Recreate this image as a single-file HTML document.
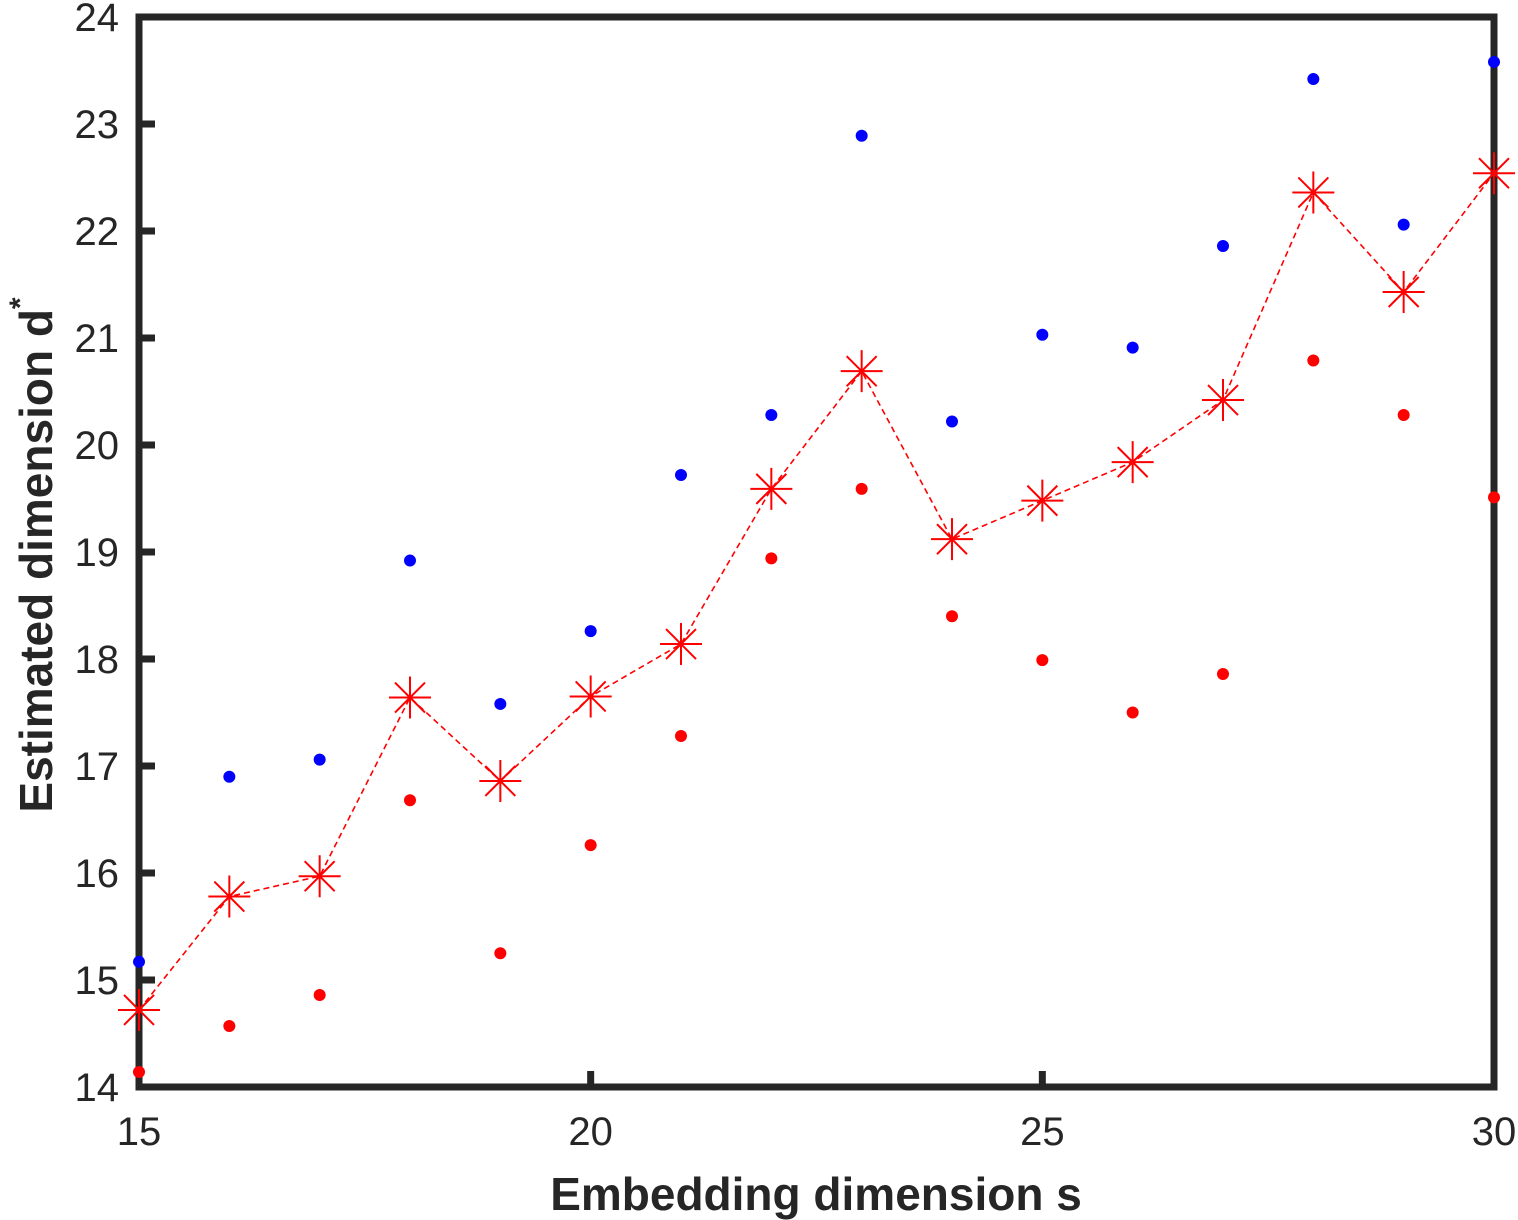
<!DOCTYPE html>
<html><head><meta charset="utf-8"><style>
html,body{margin:0;padding:0;background:#fff;}
svg{display:block;font-family:"Liberation Sans",Arial,sans-serif;}
</style></head><body>
<svg id="chart" width="1518" height="1220" viewBox="0 0 1518 1220">
<g id="axes"></g>
<g id="marks"></g>
<text x="816" y="1210" text-anchor="middle" font-size="46" font-weight="bold" fill="#262626">Embedding dimension s</text>
<text transform="translate(52,555) rotate(-90)" text-anchor="middle" font-size="46" font-weight="bold" fill="#262626">Estimated dimension d<tspan dy="-22" font-size="30">*</tspan></text>
</svg>
<script>
const xCats=[15,16,17,18,19,20,21,22,23,24,25,26,27,28,29,30];
const blueVals=[15.17,16.90,17.06,18.92,17.58,18.26,19.72,20.28,22.89,20.22,21.03,20.91,21.86,23.42,22.06,23.58];
const redVals=[14.14,14.57,14.86,16.68,15.25,16.26,17.28,18.94,19.59,18.40,17.99,17.50,17.86,20.79,20.28,19.51];
const starVals=[14.72,15.78,15.97,17.64,16.86,17.65,18.14,19.59,20.69,19.12,19.48,19.84,20.42,22.36,21.43,22.54];
const xTicks=[15,20,25,30];
const yTicks=[14,15,16,17,18,19,20,21,22,23,24];
const NS="http://www.w3.org/2000/svg";
const L=139,R=1494,T=17,B=1087,xmin=15,xmax=30,ymin=14,ymax=24;
const sx=v=>L+(v-xmin)/(xmax-xmin)*(R-L);
const sy=v=>B-(v-ymin)/(ymax-ymin)*(B-T);
function mk(tag,attrs,parent){const e=document.createElementNS(NS,tag);for(const k in attrs)e.setAttribute(k,attrs[k]);parent.appendChild(e);return e;}
const axes=document.getElementById('axes'),marks=document.getElementById('marks');
const col="#262626";
xTicks.forEach(t=>{
  const l=mk('line',{x1:sx(t),x2:sx(t),y1:B,y2:B-16,stroke:col,'stroke-width':7},axes);
  
  
  const tx=mk('text',{x:sx(t),y:B+58,'text-anchor':'middle','font-size':40,fill:col},axes);
  tx.textContent=t;
  
  
});
yTicks.forEach(t=>{
  const l=mk('line',{x1:L,x2:L+16,y1:sy(t),y2:sy(t),stroke:col,'stroke-width':7},axes);
  
  
  const tx=mk('text',{x:L-20,y:sy(t)+14,'text-anchor':'end','font-size':40,fill:col},axes);
  tx.textContent=t;
  
  
});
const fr=mk('rect',{x:L,y:T,width:R-L,height:B-T,fill:'none',stroke:col,'stroke-width':7},axes);


const pl=mk('polyline',{points:xCats.map((x,i)=>sx(x)+','+sy(starVals[i])).join(' '),fill:'none',stroke:'#ff0000','stroke-width':1.6,'stroke-dasharray':'6,4'},marks);


xCats.forEach((x,i)=>{
  const b=mk('circle',{cx:sx(x),cy:sy(blueVals[i]),r:6,fill:'#0000ff'},marks);
  
  
  const r=mk('circle',{cx:sx(x),cy:sy(redVals[i]),r:6,fill:'#ff0000'},marks);
  
  
  const cx=sx(x),cy=sy(starVals[i]),s=21,d=15;
  const g=mk('path',{d:`M${cx-s},${cy}H${cx+s}M${cx},${cy-s}V${cy+s}M${cx-d},${cy-d}L${cx+d},${cy+d}M${cx-d},${cy+d}L${cx+d},${cy-d}`,stroke:'#ff0000','stroke-width':2,fill:'none'},marks);
  
  
});
</script>
</body></html>
